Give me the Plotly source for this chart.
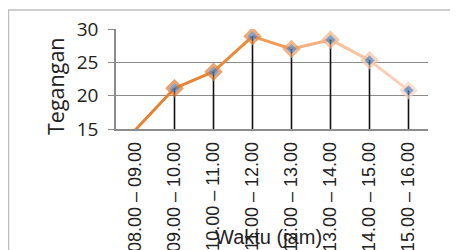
import plotly.graph_objects as go

categories = ["08.00 – 09.00", "09.00 – 10.00", "10.00 – 11.00", "11.00 – 12.00",
              "12.00 – 13.00", "13.00 – 14.00", "14.00 – 15.00", "15.00 – 16.00"]
tegangan = [14.9, 21.1, 23.6, 28.9, 27.0, 28.4, 25.3, 20.8]
y_ticks = [15, 20, 25, 30]

y_floor = 15
seg_colors = ['#E6812F', '#E78533', '#EA8B3B', '#EF9C5C', '#F3B182', '#F7C3A1', '#F9CFB5']
pt_colors = ['#E6812F', '#DF7A2C', '#E38030', '#E88838', '#EE9A58', '#F3B182', '#F7C3A1', '#F9D2BB']
marker_sizes = [0, 11, 11, 11, 11, 11, 11, 11]

# page body has an 8px margin; plot area in window: x 116..428, y 29..129
OFF = 8
W, H = 458 - OFF, 250 - OFF
L, T = 116 - OFF, 29 - OFF
R = W - (428 - OFF)
B = H - (129 - OFF)
PW, PH = 428 - 116, 129 - 29


def px(xw):
    return (xw - 116) / PW


def py(yw):
    return (129 - yw) / PH


fig = go.Figure()

# colored line segments (gradient)
for i in range(len(categories) - 1):
    fig.add_trace(go.Scatter(
        x=categories[i:i + 2], y=tegangan[i:i + 2], mode='lines',
        line=dict(color=seg_colors[i], width=3), hoverinfo='skip', showlegend=False))

# markers with drop lines
fig.add_trace(go.Scatter(
    x=categories, y=tegangan, mode='markers',
    marker=dict(symbol='diamond', size=marker_sizes, color='#4A7EC0',
                line=dict(color=pt_colors, width=3)),
    error_y=dict(type='data', symmetric=False,
                 array=[0] * len(tegangan),
                 arrayminus=[max(v - y_floor, 0) for v in tegangan],
                 width=0, thickness=1.6, color='#111111'),
    showlegend=False))

fig.update_layout(
    width=W, height=H,
    margin=dict(l=L, r=R, t=T, b=B, autoexpand=False),
    paper_bgcolor='white', plot_bgcolor='white',
    font=dict(family='Open Sans', color='#222222'),
    xaxis=dict(type='category', categoryorder='array', categoryarray=categories,
               tickangle=-90, tickfont=dict(family='Liberation Sans', size=18, color='#222222'),
               showgrid=False, showline=True, linecolor='#8C8C8C', linewidth=1.5,
               ticks='', ticklabelstandoff=4, range=[-0.5, 7.5], automargin=False),
    yaxis=dict(range=[15, 30], tickvals=y_ticks, ticktext=[str(t) for t in y_ticks],
               tickfont=dict(family='Open Sans', size=19, color='#222222'),
               showgrid=True, gridcolor='#8C8C8C', gridwidth=1,
               showline=True, linecolor='#8C8C8C', linewidth=1.5,
               ticks='outside', ticklen=6, tickcolor='#8C8C8C', ticklabelstandoff=6,
               zeroline=False, automargin=False),
    shapes=[dict(type='rect', xref='paper', yref='paper',
                 x0=px(8.5), x1=px(475), y0=py(280), y1=py(10),
                 line=dict(color='#BFBFBF', width=1.5), fillcolor='rgba(0,0,0,0)', layer='below')],
    annotations=[
        dict(text='Tegangan', xref='paper', yref='paper', x=px(55), y=py(86),
             showarrow=False, textangle=-90, xanchor='center', yanchor='middle',
             font=dict(family='Open Sans', size=21.5, color='#222222')),
        dict(text='Waktu (jam)', xref='paper', yref='paper', x=px(268), y=py(237),
             showarrow=False, xanchor='center', yanchor='middle',
             font=dict(family='Liberation Sans', size=20, color='#222222')),
    ],
)

fig.write_html("out.html")
